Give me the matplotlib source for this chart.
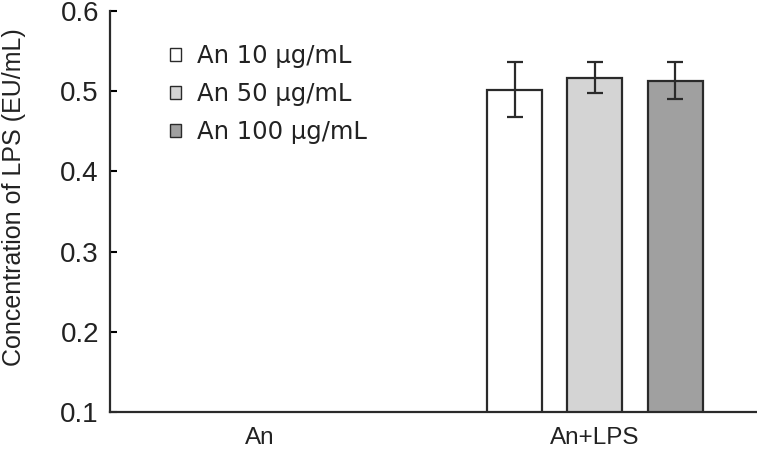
import matplotlib
matplotlib.use("Agg")
import matplotlib.pyplot as plt
import numpy as np

categories = ["An", "An+LPS"]
series_names = ["An 10 μg/mL", "An 50 μg/mL", "An 100 μg/mL"]
values = {
    "An 10 μg/mL": [0.0, 0.502],
    "An 50 μg/mL": [0.0, 0.517],
    "An 100 μg/mL": [0.0, 0.513],
}
errors = {
    "An 10 μg/mL": [0.0, 0.034],
    "An 50 μg/mL": [0.0, 0.019],
    "An 100 μg/mL": [0.0, 0.023],
}
colors = ["#ffffff", "#d4d4d4", "#a0a0a0"]
yticks = [0.1, 0.2, 0.3, 0.4, 0.5, 0.6]

plt.rcParams['font.family'] = ['Liberation Sans', 'DejaVu Sans']

fig = plt.figure(figsize=(7.57, 4.5), dpi=100)
ax = fig.add_axes([110/757, 1-412/450, 1-110/757, 401/450])

x = np.arange(len(categories))
width = 0.164
spacing = 0.24
for i, name in enumerate(series_names):
    ax.bar(x + (i - 1) * spacing, values[name], width, color=colors[i],
           edgecolor="#2a2a2a", linewidth=1.6, label=name,
           yerr=errors[name], error_kw=dict(ecolor="#2a2a2a", elinewidth=1.6,
                                           capsize=5.5, capthick=1.6))

ax.set_ylim(0.1, 0.6)
ax.set_xlim(-0.448, 1.484)
ax.set_yticks(yticks)
ax.set_yticklabels([f"{t:.1f}" for t in yticks], fontsize=20, color="#222222")
ax.set_xticks(x)
ax.set_xticklabels(categories, fontsize=17.5, color="#222222")
ax.tick_params(axis="x", length=0, pad=11)
ax.tick_params(axis="y", direction="in", length=5, width=1.5, pad=8)
for s in ["top", "right"]:
    ax.spines[s].set_visible(False)
for s in ["left", "bottom"]:
    ax.spines[s].set_linewidth(1.6)
    ax.spines[s].set_color("#2a2a2a")
ax.set_ylabel("Concentration of LPS (EU/mL)", fontsize=18, color="#222222")
ax.yaxis.set_label_coords(-0.13, 0.536)

leg = ax.legend(loc="upper left", bbox_to_anchor=(0.0927, 0.917), frameon=False,
                prop={"family": ["DejaVu Sans"], "size": 17.5},
                handlelength=0.45, handleheight=0.45, handletextpad=0.65,
                labelspacing=0.58, borderpad=0, borderaxespad=0)
for t in leg.get_texts():
    t.set_color("#222222")
for h in leg.legend_handles:
    h.set_linewidth(1.0)

fig.savefig("out.png", dpi=100)
